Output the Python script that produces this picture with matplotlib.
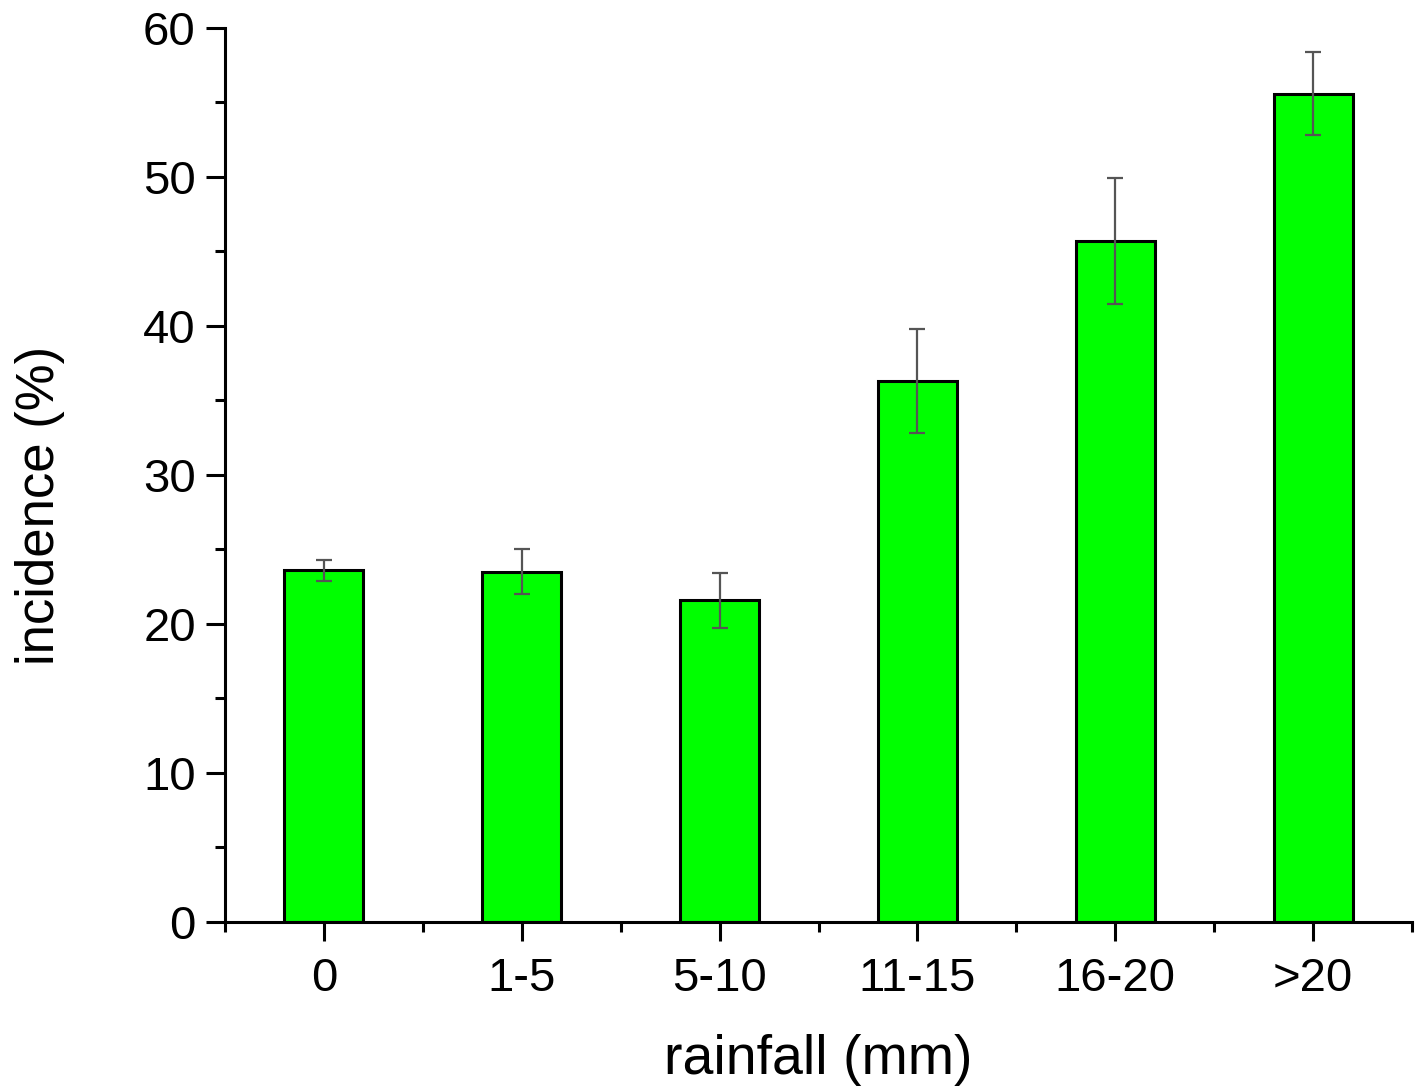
import matplotlib
matplotlib.use('Agg')
import matplotlib.pyplot as plt
from matplotlib.ticker import MultipleLocator, FixedLocator

# ── Datos ────────────────────────────────────────────────────
categorias = ['0', '1-5', '5-10', '11-15', '16-20', '>20']
incidencia = [23.6, 23.5, 21.6, 36.3, 45.7, 55.6]
errores    = [0.7, 1.5, 1.85, 3.5, 4.2, 2.8]

plt.rcParams['font.family'] = ['Liberation Sans', 'DejaVu Sans']

fig = plt.figure(figsize=(14.24, 10.89), dpi=100)
ax = fig.add_axes([0.158, 0.1534, 0.8336, 0.8209])

x = list(range(len(categorias)))
ax.bar(x, incidencia, width=0.4, color='#00ff00', edgecolor='black',
       linewidth=2.2, zorder=2)
ax.errorbar(x, incidencia, yerr=errores, fmt='none', ecolor='#555555',
            elinewidth=1.6, capsize=6, capthick=1.6, zorder=3)

ax.set_xlim(-0.5, 5.5)
ax.set_ylim(0, 60)

ax.set_xticks(x)
ax.set_xticklabels(categorias)
ax.xaxis.set_minor_locator(FixedLocator([i - 0.5 for i in range(7)]))
ax.yaxis.set_major_locator(MultipleLocator(10))
ax.yaxis.set_minor_locator(MultipleLocator(5))

for lado in ['top', 'right']:
    ax.spines[lado].set_visible(False)
for lado in ['left', 'bottom']:
    ax.spines[lado].set_linewidth(2.2)

ax.tick_params(which='major', direction='out', length=14, width=2.2,
               labelsize=34, pad=7)
ax.tick_params(which='minor', direction='out', length=7, width=2.2)
ax.tick_params(axis='x', which='major', pad=11)

ax.set_xlabel('rainfall (mm)', fontsize=40, labelpad=24)
ax.set_ylabel('incidence (%)', fontsize=38)
ax.yaxis.set_label_coords(-0.135, 0.466)

fig.savefig('out.png', dpi=100)
